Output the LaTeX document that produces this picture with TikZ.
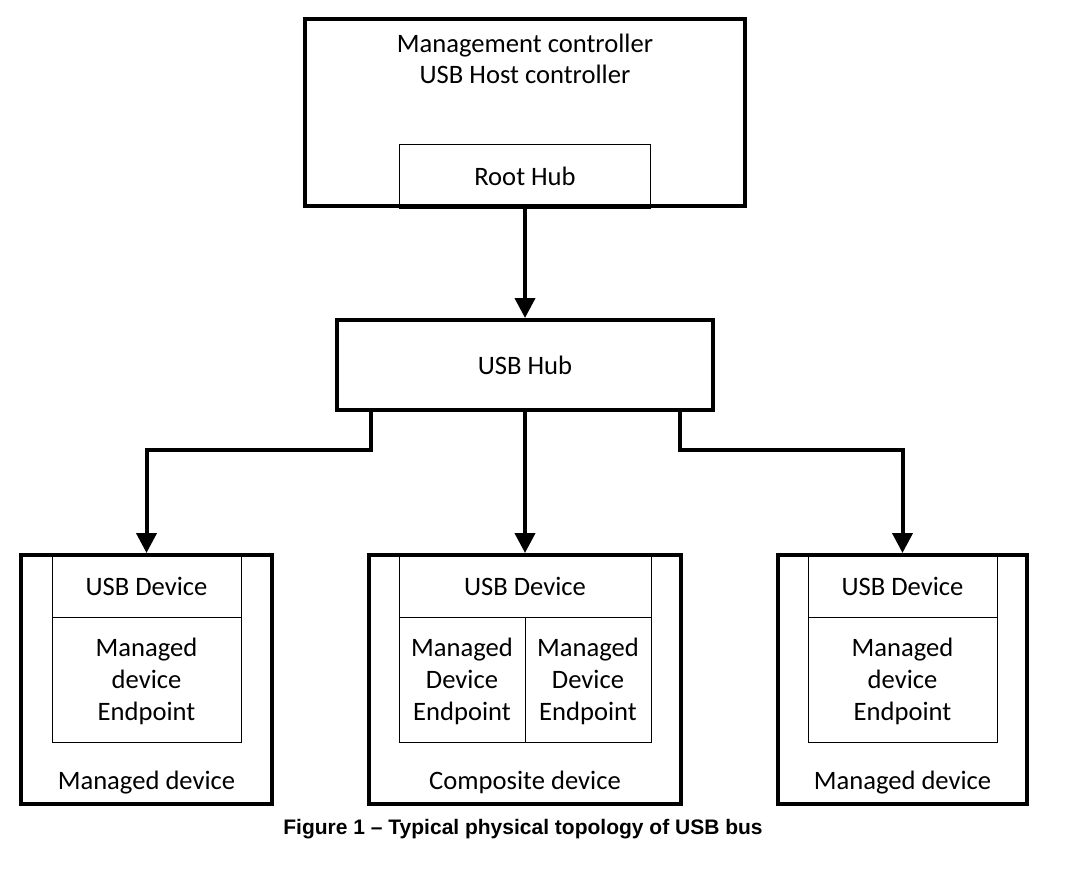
\documentclass[tikz,border=0pt]{standalone}
\usepackage{fontspec}
\setmainfont{Carlito}
\newfontfamily\capfont{Liberation Sans}
\usetikzlibrary{arrows.meta,positioning}
\tikzset{
  thickbox/.style={rectangle,draw,line width=2pt,inner sep=0pt},
  thinbox/.style={rectangle,draw,line width=0.5pt,inner sep=0pt,outer sep=0pt,align=center},
  usbbox/.style={thinbox,minimum height=31pt},
  epbox/.style={thinbox,minimum height=62.5pt,text depth=-2pt},
  devlabel/.style={anchor=base},
  link/.style={->,line width=2pt}
}

\begin{document}
\begin{tikzpicture}[x=0.5pt,y=-0.5pt,>={Triangle[width=10pt,length=10pt]},
    font=\fontsize{13.3}{16}\selectfont]
  \useasboundingbox (0,0) rectangle (1080,888);
  % host controller
  \node[thickbox,minimum width=220pt,minimum height=93.5pt] (host) at (525,112.5) {};
  \node[align=center,font=\fontsize{13.3}{15.5}\selectfont] (hostlbl) at (525,58.5)
    {Management controller\\USB Host controller};
  \node[thinbox,minimum width=125.5pt,minimum height=32pt,anchor=south] (roothub)
    at (host.south) {Root Hub};
  % hub
  \node[thickbox,minimum width=188pt,minimum height=45pt] (hub) at (525,365) {USB Hub};
  % devices
  \node[thickbox,minimum width=125.5pt,minimum height=124.5pt] (devA) at (146.5,679.5) {};
  \node[thickbox,minimum width=156pt,minimum height=124.5pt] (devB) at (525,679.5) {};
  \node[thickbox,minimum width=124.5pt,minimum height=124.5pt] (devC) at (902.5,679.5) {};
  \node[usbbox,minimum width=94.5pt] (usbA) at (146.5,586) {USB Device};
  \node[epbox,minimum width=94.5pt,below=0pt of usbA] (epA) {Managed\\device\\Endpoint};
  \node[usbbox,minimum width=126pt] (usbB) at (525,586) {USB Device};
  \node[epbox,minimum width=63pt,below right=0pt of usbB.south west] (epB1) {Managed\\Device\\Endpoint};
  \node[epbox,minimum width=63pt,below left=0pt of usbB.south east] (epB2) {Managed\\Device\\Endpoint};
  \node[usbbox,minimum width=94.5pt] (usbC) at (902.5,586) {USB Device};
  \node[epbox,minimum width=94.5pt,below=0pt of usbC] (epC) {Managed\\device\\Endpoint};
  \node[devlabel] (lblA) at (146.5,789) {Managed device};
  \node[devlabel] (lblB) at (525,789) {Composite device};
  \node[devlabel] (lblC) at (902.5,789) {Managed device};
  % bus
  \draw[link] (roothub.south) -- (hub.north);
  \draw[link] ([xshift=-77pt]hub.south) -- ++(0,38) -| (devA.north);
  \draw[link] (hub.south) -- (devB.north);
  \draw[link] ([xshift=77.5pt]hub.south) -- ++(0,38) -| (devC.north);
  \node[font=\capfont\bfseries\fontsize{10.5}{12}\selectfont] (caption) at (523,829)
    {Figure 1 – Typical physical topology of USB bus};
\end{tikzpicture}
\end{document}
